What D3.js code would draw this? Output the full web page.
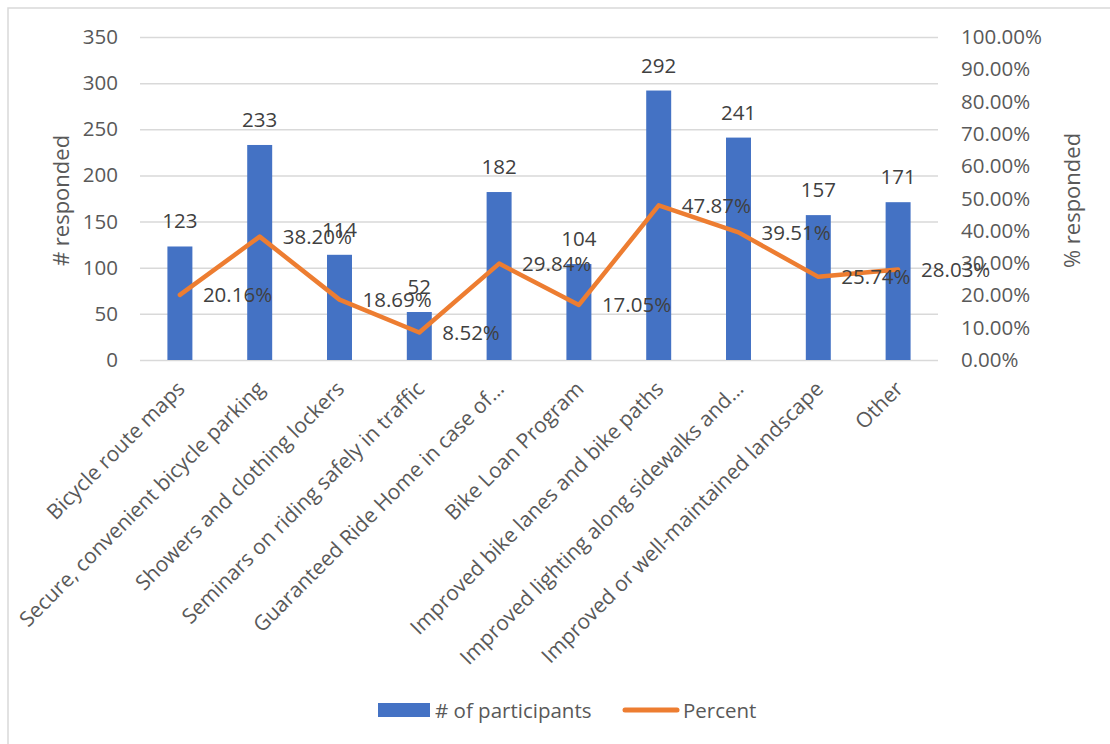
<!DOCTYPE html>
<html>
<head>
<meta charset="utf-8">
<script src="https://cdn.jsdelivr.net/npm/d3@7"></script>
<style>
  html, body { margin: 0; padding: 0; background: #fff; }
  svg { display: block; }
  text { font-family: "Open Sans", "Liberation Sans", sans-serif; }
</style>
</head>
<body>
<svg id="chart" width="1110" height="744"></svg>
<script>
const categories = [
  "Bicycle route maps",
  "Secure, convenient bicycle parking",
  "Showers and clothing lockers",
  "Seminars on riding safely in traffic",
  "Guaranteed Ride Home in case of…",
  "Bike Loan Program",
  "Improved bike lanes and bike paths",
  "Improved lighting along sidewalks and…",
  "Improved or well-maintained landscape",
  "Other"
];
const participants = [123, 233, 114, 52, 182, 104, 292, 241, 157, 171];
const percent = [20.16, 38.20, 18.69, 8.52, 29.84, 17.05, 47.87, 39.51, 25.74, 28.03];
const leftTicks = [0, 50, 100, 150, 200, 250, 300, 350];
const rightTicks = [0, 10, 20, 30, 40, 50, 60, 70, 80, 90, 100];
const seriesNames = ["# of participants", "Percent"];
const axisTitles = ["# responded", "% responded"];

const svg = d3.select("#chart");
const plot = { left: 140, right: 938, top: 37, bottom: 360 };
const BLUE = "#4472C4", ORANGE = "#ED7D31", GRID = "#d9d9d9";
const AXIS_TXT = "#595959", LABEL_TXT = "#404040";
const FONT = '"Open Sans", sans-serif';

// chart area frame (cropped)
svg.append("path")
  .attr("d", "M8,744 L8,8 L1110,8")
  .attr("fill", "none").attr("stroke", GRID).attr("stroke-width", 1.5);

const x = d3.scaleBand().domain(categories).range([plot.left, plot.right]).paddingInner(0.687).paddingOuter(0.3435);
const yL = d3.scaleLinear().domain([0, 350]).range([plot.bottom, plot.top]);
const yR = d3.scaleLinear().domain([0, 100]).range([plot.bottom, plot.top]);

// gridlines
const grid = svg.append("g")
  .attr("transform", `translate(${plot.left},0)`)
  .call(d3.axisLeft(yL).tickValues(leftTicks).tickSize(-(plot.right - plot.left)).tickFormat(""));
grid.select(".domain").remove();
grid.selectAll("line").attr("stroke", GRID).attr("stroke-width", 1.5);

// left axis labels
const gl = svg.append("g")
  .attr("transform", `translate(${plot.left - 22},0)`)
  .call(d3.axisLeft(yL).tickValues(leftTicks).tickSize(0).tickPadding(0));
gl.select(".domain").remove();
gl.selectAll("text").attr("fill", AXIS_TXT).style("font-size", "20.5px").style("font-family", FONT);

// right axis labels
const gr = svg.append("g")
  .attr("transform", `translate(${plot.right + 23},0)`)
  .call(d3.axisRight(yR).tickValues(rightTicks).tickSize(0).tickPadding(0).tickFormat(d => d.toFixed(2) + "%"));
gr.select(".domain").remove();
gr.selectAll("text").attr("fill", AXIS_TXT).style("font-size", "20.5px").style("font-family", FONT);

// bottom axis category labels
const gb = svg.append("g")
  .attr("transform", `translate(0,${plot.bottom})`)
  .call(d3.axisBottom(x).tickSize(0).tickPadding(0));
gb.select(".domain").remove();
gb.selectAll("text")
  .attr("fill", AXIS_TXT)
  .style("font-size", "21px").style("font-family", FONT)
  .attr("text-anchor", "end")
  .attr("dy", "0.35em")
  .attr("transform", "translate(1,25) rotate(-45)");

// axis titles
svg.append("text")
  .attr("transform", `translate(69,${(plot.top + plot.bottom) / 2 + 2}) rotate(-90)`)
  .attr("text-anchor", "middle").attr("fill", AXIS_TXT).style("font-size", "22px")
  .text(axisTitles[0]);
svg.append("text")
  .attr("transform", `translate(1080,${(plot.top + plot.bottom) / 2 + 2}) rotate(-90)`)
  .attr("text-anchor", "middle").attr("fill", AXIS_TXT).style("font-size", "22px")
  .text(axisTitles[1]);

// bars
svg.append("g").selectAll("rect").data(participants).join("rect")
  .attr("x", (d, i) => x(categories[i]))
  .attr("width", x.bandwidth())
  .attr("y", d => yL(d))
  .attr("height", d => yL(0) - yL(d))
  .attr("fill", BLUE);

// line
const cx = i => x(categories[i]) + x.bandwidth() / 2;
const line = d3.line().x((d, i) => cx(i)).y(d => yR(d));
svg.append("path").datum(percent)
  .attr("d", line)
  .attr("fill", "none").attr("stroke", ORANGE).attr("stroke-width", 4.5)
  .attr("stroke-linejoin", "round").attr("stroke-linecap", "round");

// bar labels
svg.append("g").selectAll("text").data(participants).join("text")
  .attr("x", (d, i) => cx(i))
  .attr("y", d => yL(d) - 18)
  .attr("text-anchor", "middle").attr("fill", LABEL_TXT).style("font-size", "20.5px")
  .text(d => d);

// percent labels
svg.append("g").selectAll("text").data(percent).join("text")
  .attr("x", (d, i) => cx(i) + 23)
  .attr("y", d => yR(d))
  .attr("dy", "0.35em")
  .attr("fill", LABEL_TXT).style("font-size", "20.5px")
  .text(d => d.toFixed(2) + "%");

// legend
const lg = svg.append("g");
lg.append("rect").attr("x", 378).attr("y", 703).attr("width", 52).attr("height", 14).attr("fill", BLUE);
lg.append("text").attr("x", 435).attr("y", 718).attr("fill", AXIS_TXT).style("font-size", "20.5px").text(seriesNames[0]);
lg.append("line").attr("x1", 625).attr("x2", 677).attr("y1", 710).attr("y2", 710)
  .attr("stroke", ORANGE).attr("stroke-width", 5).attr("stroke-linecap", "round");
lg.append("text").attr("x", 683).attr("y", 718).attr("fill", AXIS_TXT).style("font-size", "20.5px").text(seriesNames[1]);
</script>
</body>
</html>
